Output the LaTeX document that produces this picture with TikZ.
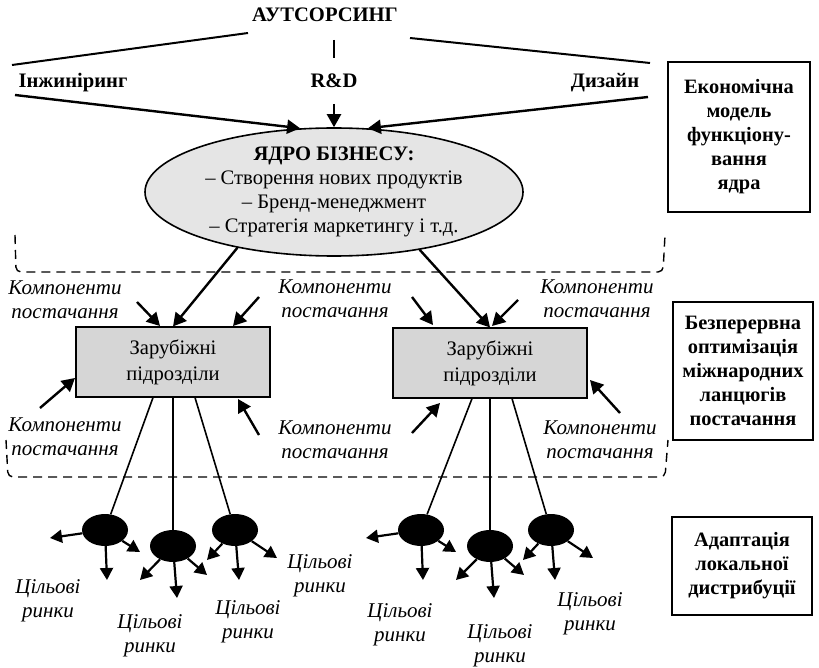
\documentclass[tikz,border=0pt]{standalone}
\usepackage{fontspec}
\setmainfont{Liberation Serif}
\usetikzlibrary{arrows.meta,shapes.geometric,calc}
\begin{document}
\begin{tikzpicture}[x=1pt,y=-1pt,
  txt/.style={font=\fontsize{20.6}{24}\selectfont, align=center, inner sep=0pt},
  btxt/.style={font=\fontsize{20.6}{24}\selectfont\bfseries, align=center, inner sep=0pt},
  itxt/.style={font=\fontsize{21}{24}\selectfont\itshape, align=center, inner sep=0pt},
  arr/.style={line width=2.4pt, -{Triangle[length=13pt,width=14pt]}},
  sarr/.style={line width=2.2pt, -{Triangle[length=12pt,width=13pt]}},
  thinline/.style={line width=1.6pt},
  dashline/.style={line width=1.4pt, dash pattern=on 9pt off 6pt, rounded corners=5pt},
  subbox/.style={draw, line width=1.2pt, fill=gray!32, minimum width=194pt, minimum height=70pt, inner sep=0pt, align=center, font=\fontsize{20.6}{26}\selectfont},
  sidebox/.style={draw, line width=1.2pt, inner sep=0pt, align=center, font=\fontsize{20.4}{24}\selectfont\bfseries},
  market/.style={ellipse, fill=black, minimum width=46pt, minimum height=32pt, inner sep=0pt}
]
\useasboundingbox (0,0) rectangle (819,668);

% top
\node[btxt, anchor=base] (aut) at (325,22) {АУТСОРСИНГ};
\coordinate (a1) at (248,33);
\coordinate (a2) at (12,65);
\coordinate (a3) at (410,38);
\coordinate (a4) at (650,63);
\coordinate (a5) at (334,40);
\coordinate (a6) at (334,58);
\draw[line width=2pt] (a1) -- (a2);
\draw[line width=2pt] (a3) -- (a4);
\draw[line width=2.2pt] (a5) -- (a6);
\node[btxt, anchor=base] (eng) at (73,88) {Інжиніринг};
\node[btxt, anchor=base] (rd) at (334,88) {R\&D};
\node[btxt, anchor=base] (des) at (605,88) {Дизайн};

% core
\node[draw, ellipse, line width=1.6pt, fill=gray!20, minimum width=378pt, minimum height=128pt, inner sep=0pt] (core) at (334,192) {};
\node[txt] (coretxt) at (334,192) {\textbf{ЯДРО БІЗНЕСУ:}\\– Створення нових продуктів\\– Бренд-менеджмент\\– Стратегія маркетингу і т.д.};

\coordinate (e1) at (15,95);
\coordinate (e2) at (648,97);
\coordinate (e3) at (334,104);
\draw[arr] (e1) -- (core.118);
\draw[arr] (e3) -- (core.north);
\draw[arr] (e2) -- (core.62);

% side boxes
\node[sidebox, minimum width=142pt, minimum height=150pt] (sb1) at (739,137) {Економічна\\модель\\функціону-\\вання\\ядра};
\node[sidebox, minimum width=140pt, minimum height=138pt] (sb2) at (743,371) {Безперервна\\оптимізація\\міжнародних\\ланцюгів\\постачання};
\node[sidebox, minimum width=140pt, minimum height=98pt] (sb3) at (742,566) {Адаптація\\локальної\\дистрибуції};

% dashed regions
\draw[dashline] (15,235) -- (16,272) -- (663,272) -- (665,235);
\draw[dashline] (6,440) -- (8,477) -- (665,477) -- (668,440);

% sub boxes
\node[subbox] (lb) at (173,362) {Зарубіжні\\підрозділи};
\node[subbox] (rb) at (490,363) {Зарубіжні\\підрозділи};
\draw[arr] (core.-150) -- (lb.north);
\draw[arr] (core.-34) -- (rb.north);

% components labels
\node[itxt] (k1) at (65,300) {Компоненти\\постачання};
\node[itxt] (k2) at (335,299) {Компоненти\\постачання};
\node[itxt] (k3) at (597,299) {Компоненти\\постачання};
\node[itxt] (k4) at (65,437) {Компоненти\\постачання};
\node[itxt] (k5) at (335,440) {Компоненти\\постачання};
\node[itxt] (k6) at (600,440) {Компоненти\\постачання};

% components arrows
\draw[arr] (137,302) -- (160,326);
\draw[arr] (259,297) -- (233,326);
\draw[arr] (40,408) -- (75,378);
\draw[arr] (259,435) -- (238,399);
\draw[arr] (412,297) -- (433,325);
\draw[arr] (518,300) -- (492,326);
\draw[arr] (412,433) -- (440,403);
\draw[arr] (620,413) -- (590,380);

% markets
\node[market] (m1) at (105,530) {};
\node[market] (m2) at (173,546) {};
\node[market] (m3) at (235,530) {};
\node[market] (m4) at (421,530) {};
\node[market] (m5) at (490,546) {};
\node[market] (m6) at (551,530) {};

\draw[thinline] ([xshift=-20pt]lb.south) -- (m1);
\draw[thinline] (lb.south) -- (m2);
\draw[thinline] ([xshift=22pt]lb.south) -- (m3);
\draw[thinline] ([xshift=-18pt]rb.south) -- (m4);
\draw[thinline] (rb.south) -- (m5);
\draw[thinline] ([xshift=22pt]rb.south) -- (m6);

\draw[sarr] (m1) -- (50,538);
\draw[sarr] (m1) -- (107,580);
\draw[sarr] (m1) -- (140,552);
\draw[sarr] (m2) -- (140,580);
\draw[sarr] (m2) -- (177,598);
\draw[sarr] (m2) -- (207,575);
\draw[sarr] (m3) -- (207,560);
\draw[sarr] (m3) -- (239,580);
\draw[sarr] (m3) -- (277,558);
\draw[sarr] (m4) -- (366,538);
\draw[sarr] (m4) -- (423,580);
\draw[sarr] (m4) -- (456,552);
\draw[sarr] (m5) -- (456,580);
\draw[sarr] (m5) -- (494,598);
\draw[sarr] (m5) -- (524,575);
\draw[sarr] (m6) -- (523,560);
\draw[sarr] (m6) -- (555,580);
\draw[sarr] (m6) -- (593,558);

\node[itxt] (t1) at (48,601) {Цільові\\ринки};
\node[itxt] (t2) at (150,636) {Цільові\\ринки};
\node[itxt] (t3) at (248,622) {Цільові\\ринки};
\node[itxt] (t4) at (320,576) {Цільові\\ринки};
\node[itxt] (t5) at (400,625) {Цільові\\ринки};
\node[itxt] (t6) at (500,646) {Цільові\\ринки};
\node[itxt] (t7) at (590,614) {Цільові\\ринки};
\end{tikzpicture}
\end{document}
